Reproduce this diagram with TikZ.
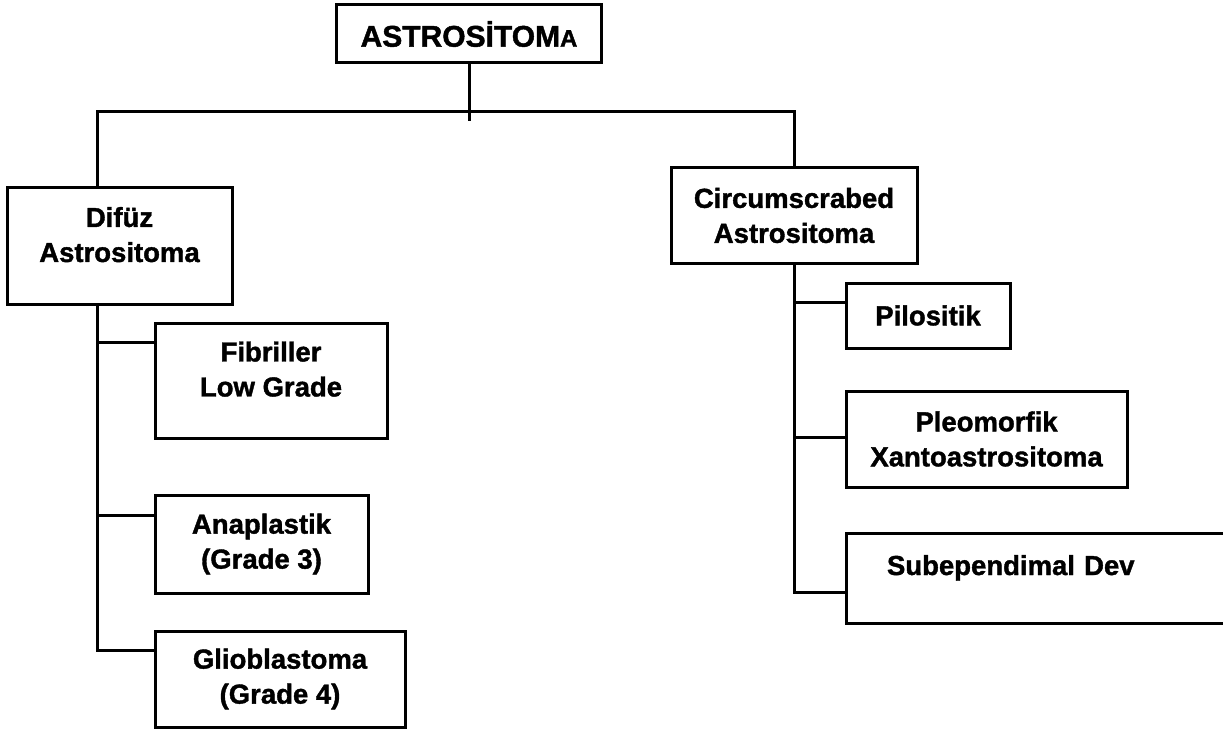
\documentclass[tikz,border=0pt]{standalone}
\usepackage{fontspec}
\setmainfont{Liberation Sans}
\newfontfamily\kalin{Liberation Sans Bold}[FakeBold=1.4]
\begin{document}
\begin{tikzpicture}[x=1pt,y=-1pt,
    kutu/.style ={draw, line width=3pt, align=center, inner sep=0pt,
      font=\fontsize{27.5}{35}\kalin},
    baglanti/.style ={line width=3pt}]
   \useasboundingbox (0,0) rectangle (1223,730);
   \clip (0,0) rectangle (1223,730);

   \node[kutu, minimum width=265pt, minimum height=58pt,
     font=\fontsize{30}{36}\kalin] (ust) at (469,34)
     {ASTROSİTOM{\fontsize{24}{28}\selectfont A}};
   \node[kutu, minimum width=225pt, minimum height=116pt] (difuz) at (119.5,246) {Difüz\\Astrositoma\\[-12pt]};
   \node[kutu, minimum width=246pt, minimum height=95pt] (circ) at (794,215.5) {Circumscrabed\\Astrositoma};
   \node[kutu, minimum width=232pt, minimum height=115pt] (fib) at (271,380.5) {Fibriller\\Low Grade\\[-12pt]};
   \node[kutu, minimum width=213pt, minimum height=98pt] (ana) at (261.5,544) {Anaplastik\\(Grade 3)};
   \node[kutu, minimum width=250pt, minimum height=96pt] (glio) at (280,679) {Glioblastoma\\(Grade 4)};
   \node[kutu, minimum width=164pt, minimum height=65pt] (pilo) at (928,315.5) {Pilositik};
   \node[kutu, minimum width=281pt, minimum height=96pt] (pleo) at (986.5,439) {Pleomorfik\\Xantoastrositoma};
   \node[kutu, align=left, inner xsep=41pt, text width=312pt,
     text height=42pt, text depth=48pt] (sub) at (1043,578) {Subependimal Dev};

   \coordinate (sol) at (97.5,112);
   \coordinate (sag) at (794,112);

   \draw[baglanti] (ust.south) -- ++(0,57);
   \draw[baglanti] (sol |- difuz.north) -- (sol) -- (sag) -- (circ.north);
   \draw[baglanti] (sol |- difuz.south) -- (sol |- 0,650) -- (glio.west |- 0,650);
   \draw[baglanti] (sol |- 0,342) -- (fib.west |- 0,342);
   \draw[baglanti] (sol |- 0,515) -- (ana.west |- 0,515);
   \draw[baglanti] (circ.south) -- (sag |- 0,592) -- (sub.west |- 0,592);
   \draw[baglanti] (sag |- 0,302) -- (pilo.west |- 0,302);
   \draw[baglanti] (sag |- 0,437) -- (pleo.west |- 0,437);
\end{tikzpicture}
\end{document}
